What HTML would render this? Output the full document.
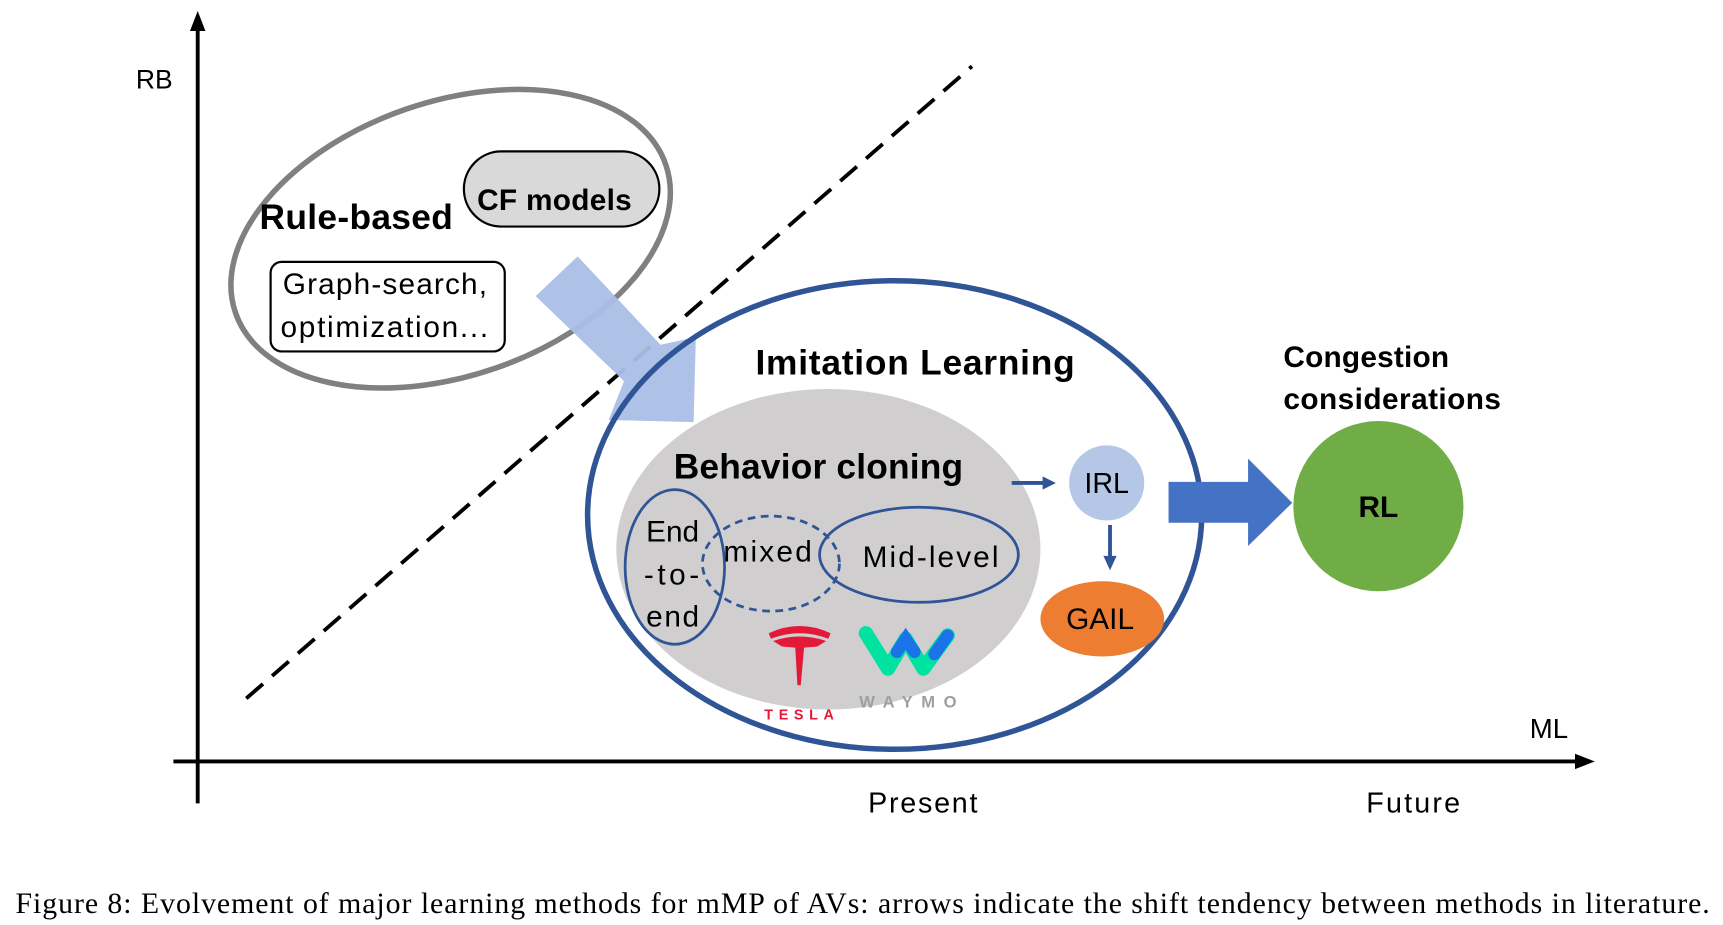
<!DOCTYPE html>
<html><head><meta charset="utf-8"><style>
html,body{margin:0;padding:0;background:#fff;}
svg{display:block;}
text{font-family:"Liberation Sans",sans-serif;}
</style></head><body>
<svg width="1723" height="925" viewBox="0 0 1560 837" preserveAspectRatio="none" xmlns="http://www.w3.org/2000/svg">
<!-- axes -->
<line x1="179" y1="727" x2="179" y2="24" stroke="#000" stroke-width="3.5"/>
<path d="M172,28 L179,10 L186,28 z" fill="#000"/>
<line x1="157" y1="689" x2="1430" y2="689" stroke="#000" stroke-width="3.5"/>
<path d="M1426,682 L1444,689 L1426,696 z" fill="#000"/>
<text x="123" y="80" font-size="24">RB</text>
<text x="1385" y="668" font-size="25">ML</text>
<text x="786" y="735" font-size="26" textLength="99">Present</text>
<text x="1237" y="735" font-size="26" textLength="85">Future</text>
<!-- dashed line -->
<line x1="223" y1="632" x2="880" y2="60" stroke="#000" stroke-width="3.5" stroke-dasharray="20,11"/>
<!-- rule based ellipse -->
<ellipse cx="408" cy="216" rx="206" ry="124" transform="rotate(-19 408 216)" fill="none" stroke="#808080" stroke-width="5"/>
<rect x="420" y="137" width="177" height="68" rx="34" fill="#d9d9d9" stroke="#000" stroke-width="2"/>
<text x="432" y="190" font-size="27" font-weight="bold" textLength="140">CF models</text>
<text x="235" y="207" font-size="32" font-weight="bold" textLength="175">Rule-based</text>
<rect x="245" y="237" width="212" height="81" rx="10" fill="#fff" stroke="#000" stroke-width="2"/>
<text x="256" y="266" font-size="27" textLength="185">Graph-search,</text>
<text x="254" y="305" font-size="27" textLength="188">optimization...</text>
<!-- light blue arrow -->
<polygon points="485,268 523,232 598,312 630,305 628,382 551,380 565,345" fill="#a9bfe5" opacity="0.95"/>
<!-- imitation learning -->
<ellipse cx="810" cy="466" rx="278" ry="212" fill="none" stroke="#2f5597" stroke-width="5"/>
<ellipse cx="750" cy="497" rx="192" ry="145" fill="#d0cece"/>
<text x="684" y="339" font-size="32" font-weight="bold" textLength="289">Imitation Learning</text>
<text x="610" y="433" font-size="32" font-weight="bold" textLength="262">Behavior cloning</text>
<ellipse cx="611" cy="513" rx="45" ry="70" fill="none" stroke="#2f5597" stroke-width="2.5"/>
<ellipse cx="698" cy="510" rx="62" ry="43" fill="none" stroke="#2f5597" stroke-width="2.5" stroke-dasharray="7,5"/>
<ellipse cx="832" cy="502" rx="90" ry="43" fill="none" stroke="#2f5597" stroke-width="2.5"/>
<text x="585" y="490" font-size="27" textLength="48">End</text>
<text x="583" y="529" font-size="27" textLength="50">-to-</text>
<text x="585" y="567" font-size="27" textLength="48">end</text>
<text x="655" y="508" font-size="27" textLength="80">mixed</text>
<text x="781" y="513" font-size="27" textLength="123">Mid-level</text>
<!-- tesla -->
<path d="M696,573 Q724,560 752,573 L750,578 Q724,568 698,578 z" fill="#e31937"/>
<path d="M700,580 Q724,572 748,580 L740,585 L728,586 L725,620 L722,620 L720,586 L708,585 z" fill="#e31937"/>
<text x="692" y="651" font-size="13" font-weight="bold" fill="#e31937" textLength="63">TESLA</text>
<!-- waymo -->
<path d="M784,573 L804,605 L820,578 L836,605 L858,575" fill="none" stroke="#00e3a0" stroke-width="13" stroke-linecap="round" stroke-linejoin="round"/>
<path d="M812,590 L820,578 L828,590 M846,592 L858,575" fill="none" stroke="#1a73e8" stroke-width="11" stroke-linecap="round"/>
<text x="778" y="640" font-size="15" fill="#9aa0a6" font-weight="bold" textLength="88">WAYMO</text>
<!-- IRL / GAIL -->
<line x1="916" y1="437" x2="946" y2="437" stroke="#2f5597" stroke-width="3.5"/>
<path d="M944,431 L956,437 L944,443 z" fill="#2f5597"/>
<circle cx="1002" cy="437" r="34" fill="#b4c7e7"/>
<text x="1002" y="446" font-size="26" text-anchor="middle">IRL</text>
<line x1="1005" y1="475" x2="1005" y2="505" stroke="#2f5597" stroke-width="3.5"/>
<path d="M999,503 L1005,516 L1011,503 z" fill="#2f5597"/>
<ellipse cx="998" cy="560" rx="56" ry="34" fill="#ed7d31"/>
<text x="996" y="569" font-size="27" text-anchor="middle">GAIL</text>
<!-- big arrow -->
<polygon points="1058,436 1130,436 1130,415 1170,455 1130,494 1130,473 1058,473" fill="#4472c4"/>
<circle cx="1248" cy="458" r="77" fill="#70ad47"/>
<text x="1248" y="468" font-size="27" font-weight="bold" text-anchor="middle">RL</text>
<text x="1162" y="332" font-size="27" font-weight="bold" textLength="150">Congestion</text>
<text x="1162" y="370" font-size="27" font-weight="bold" textLength="197">considerations</text>
<!-- caption -->
<text x="14" y="826" font-size="27" style="font-family:'Liberation Serif',serif" textLength="1534">Figure 8: Evolvement of major learning methods for mMP of AVs: arrows indicate the shift tendency between methods in literature.</text>
</svg>
</body></html>
